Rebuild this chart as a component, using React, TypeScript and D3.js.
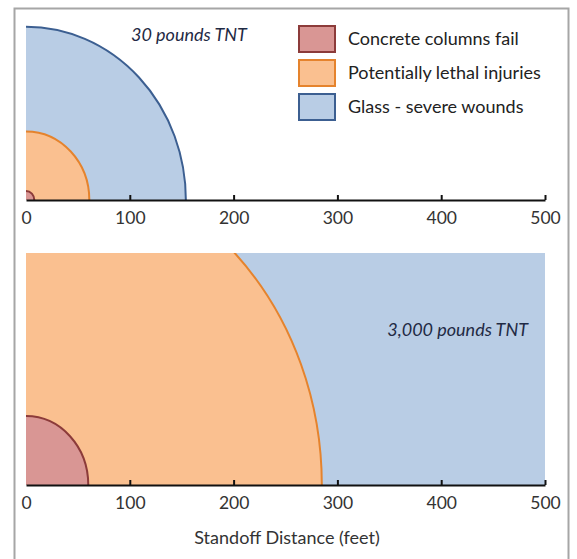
import React, { useRef, useEffect } from 'react';
import * as d3 from 'd3';

// hazard radii in feet, per charge size
const zones = ['Concrete columns fail', 'Potentially lethal injuries', 'Glass - severe wounds'];
const radii30 = [8, 61, 154];
const radii3000 = [60, 285, 1000];
const panelLabels = ['30 pounds TNT', '3,000 pounds TNT'];
const xTicks = [0, 100, 200, 300, 400, 500];
const xTitle = 'Standoff Distance (feet)';

const fills = ['#d99694', '#fac090', '#b9cde5'];
const strokes = ['#8c3b3a', '#e5832d', '#3c5f91'];

const W = 577;
const H = 559;
const FONT = 'Lato, "Open Sans", sans-serif';

const App = () => {
    const ref = useRef<SVGSVGElement>(null);

    useEffect(() => {
        const svg = d3.select(ref.current);
        svg.selectAll('*').remove();

        svg.append('rect')
            .attr('x', 14.5).attr('y', 8.5)
            .attr('width', 554).attr('height', 600)
            .attr('fill', '#fff')
            .attr('stroke', '#a6a6a6')
            .attr('stroke-width', 2);

        const x = d3.scaleLinear().domain([0, 500]).range([26, 545]);

        const panels = [
            { radii: radii30, y: d3.scaleLinear().domain([0, 160]).range([200, 20]) },
            { radii: radii3000, y: d3.scaleLinear().domain([0, 202]).range([485, 253]) },
        ];

        panels.forEach((p, i) => {
            const y = p.y;
            const [y0, y1] = y.range();
            const clipId = 'clip' + i;
            svg.append('clipPath').attr('id', clipId)
                .append('rect')
                .attr('x', x(0)).attr('y', y1)
                .attr('width', x(500) - x(0)).attr('height', y0 - y1);

            const g = svg.append('g').attr('clip-path', `url(#${clipId})`);
            const order = [2, 1, 0];
            g.selectAll('ellipse')
                .data(order)
                .join('ellipse')
                .attr('cx', x(0))
                .attr('cy', y(0))
                .attr('rx', k => x(p.radii[k]) - x(0))
                .attr('ry', k => y(0) - y(p.radii[k]))
                .attr('fill', k => fills[k])
                .attr('stroke', k => strokes[k])
                .attr('stroke-width', 2);

            const axis = svg.append('g')
                .attr('transform', `translate(0,${y0})`)
                .call(d3.axisBottom(x).tickValues(xTicks).tickSizeInner(-5).tickSizeOuter(0).tickPadding(12));
            axis.select('.domain').attr('stroke', '#111').attr('stroke-width', 2);
            axis.selectAll('.tick line').attr('stroke', '#111').attr('stroke-width', 2);
            axis.select('.tick line').remove();
            axis.selectAll('.tick text')
                .attr('font-family', FONT)
                .attr('font-size', 17.5)
                .attr('fill', '#333');
        });

        svg.append('text')
            .attr('x', 131).attr('y', 41)
            .attr('font-family', FONT).attr('font-style', 'italic')
            .attr('font-size', 18).attr('fill', '#1f2a44')
            .text(panelLabels[0]);

        svg.append('text')
            .attr('x', 528).attr('y', 336)
            .attr('text-anchor', 'end')
            .attr('font-family', FONT).attr('font-style', 'italic')
            .attr('font-size', 18).attr('fill', '#1f2a44')
            .text(panelLabels[1]);

        svg.append('text')
            .attr('x', 287).attr('y', 544)
            .attr('text-anchor', 'middle')
            .attr('font-family', FONT)
            .attr('font-size', 18).attr('fill', '#333')
            .text(xTitle);

        const legend = svg.append('g').attr('transform', 'translate(298,25)');
        const item = legend.selectAll('g')
            .data(zones)
            .join('g')
            .attr('transform', (_, i) => `translate(0,${i * 34})`);
        item.append('rect')
            .attr('x', 1).attr('y', 1)
            .attr('width', 36).attr('height', 26)
            .attr('fill', (_, i) => fills[i])
            .attr('stroke', (_, i) => strokes[i])
            .attr('stroke-width', 2);
        item.append('text')
            .attr('x', 50).attr('y', 20)
            .attr('font-family', FONT)
            .attr('font-size', 18).attr('fill', '#222')
            .style('font-variant-ligatures', 'none')
            .text(d => d);
    }, []);

    return (
        <svg ref={ref} width={W} height={H} style={{ position: 'absolute', left: 0, top: 0 }}></svg>
    );
};

export default App;
